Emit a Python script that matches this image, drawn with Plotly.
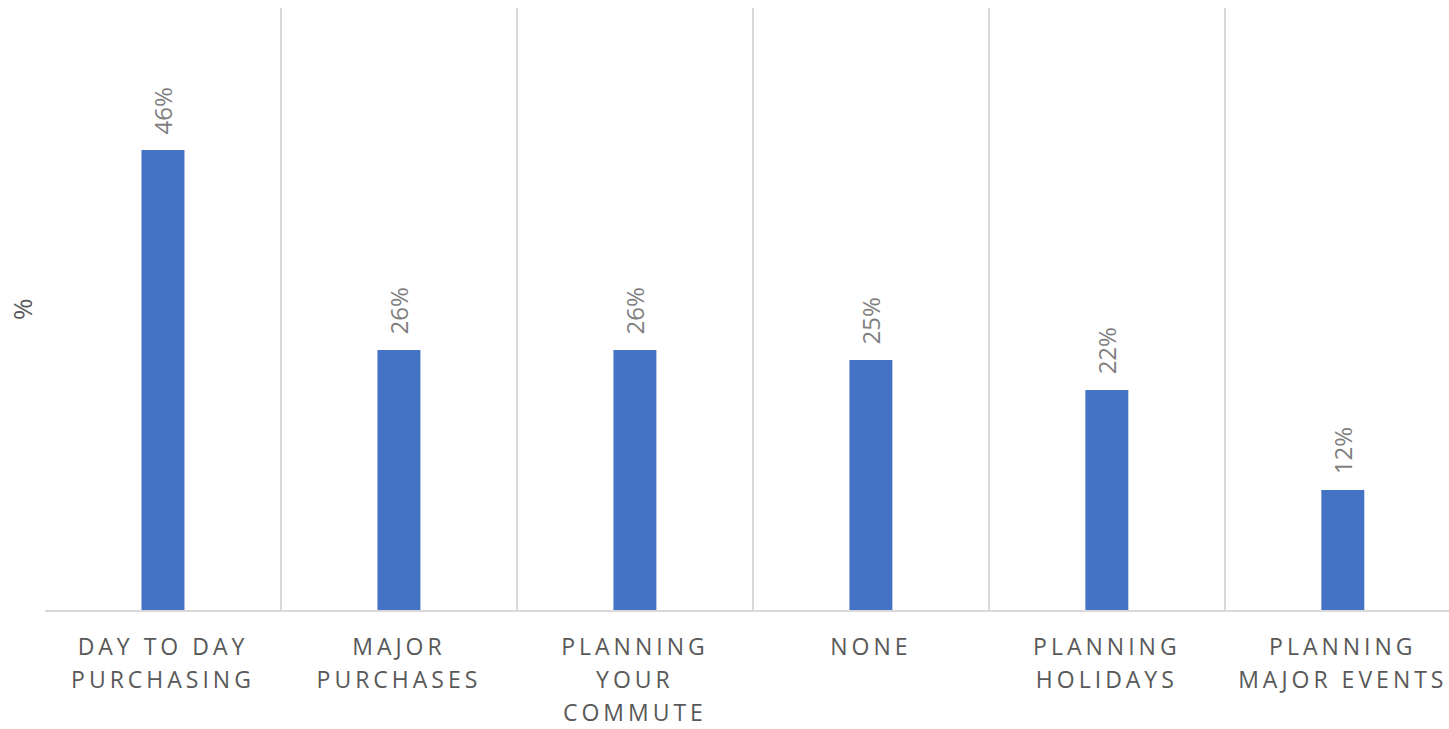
import plotly.graph_objects as go

categories = [
    "DAY TO DAY<br>PURCHASING",
    "MAJOR<br>PURCHASES",
    "PLANNING<br>YOUR<br>COMMUTE",
    "NONE",
    "PLANNING<br>HOLIDAYS",
    "PLANNING<br>MAJOR EVENTS",
]
values = [46, 26, 26, 25, 22, 12]

positions = list(range(len(categories)))

BAR_COLOR = "#4472C4"
GRID_COLOR = "#d9d9d9"
AXIS_TEXT = "#595959"
LABEL_TEXT = "#7f7f7f"
FONT = "Open Sans"

fig = go.Figure(
    go.Bar(
        x=positions,
        y=values,
        width=0.182,
        marker=dict(color=BAR_COLOR, line=dict(width=0)),
        hoverinfo="skip",
    )
)

# value labels rotated above each bar
for x, v in zip(positions, values):
    fig.add_annotation(
        x=x, y=v, text=f"{v}%", showarrow=False,
        textangle=-90, yanchor="bottom", xanchor="center", yshift=14,
        font=dict(family=FONT, size=24, color=LABEL_TEXT),
    )

# axis title on the left
fig.add_annotation(
    xref="paper", yref="paper", x=0, y=0.5, xshift=-23,
    text="%", showarrow=False, textangle=-90,
    xanchor="center", yanchor="middle",
    font=dict(family=FONT, size=26, color=AXIS_TEXT),
)

fig.update_layout(
    width=1449, height=729,
    margin=dict(l=45, r=0, t=8, b=119),
    paper_bgcolor="white", plot_bgcolor="white",
    showlegend=False,
    font=dict(family=FONT, color=AXIS_TEXT),
    xaxis=dict(
        range=[-0.5, 5.45],
        tickmode="array",
        tickvals=positions,
        ticktext=categories,
        showgrid=False,
        zeroline=False,
        showline=True, linecolor=GRID_COLOR, linewidth=2,
        ticks="", ticklabelstandoff=15,
        tickfont=dict(family=FONT, size=23, color=AXIS_TEXT),
        minor=dict(tick0=0.5, dtick=1, showgrid=True,
                   gridcolor=GRID_COLOR, gridwidth=1.5, ticks=""),
    ),
    yaxis=dict(
        range=[0, 60.2],
        showgrid=False, zeroline=False, showticklabels=False,
        showline=False, ticks="",
    ),
)

# wider tracking and looser line spacing for the category labels
spacing_js = """
document.querySelectorAll('.xtick text').forEach(function(t){
  t.style.letterSpacing = '4px';
  t.querySelectorAll('tspan.line').forEach(function(s, i){
    if (i > 0) { s.setAttribute('dy', (1.45 * i) + 'em'); }
  });
});
"""

fig.write_html("out.html", post_script=spacing_js)
